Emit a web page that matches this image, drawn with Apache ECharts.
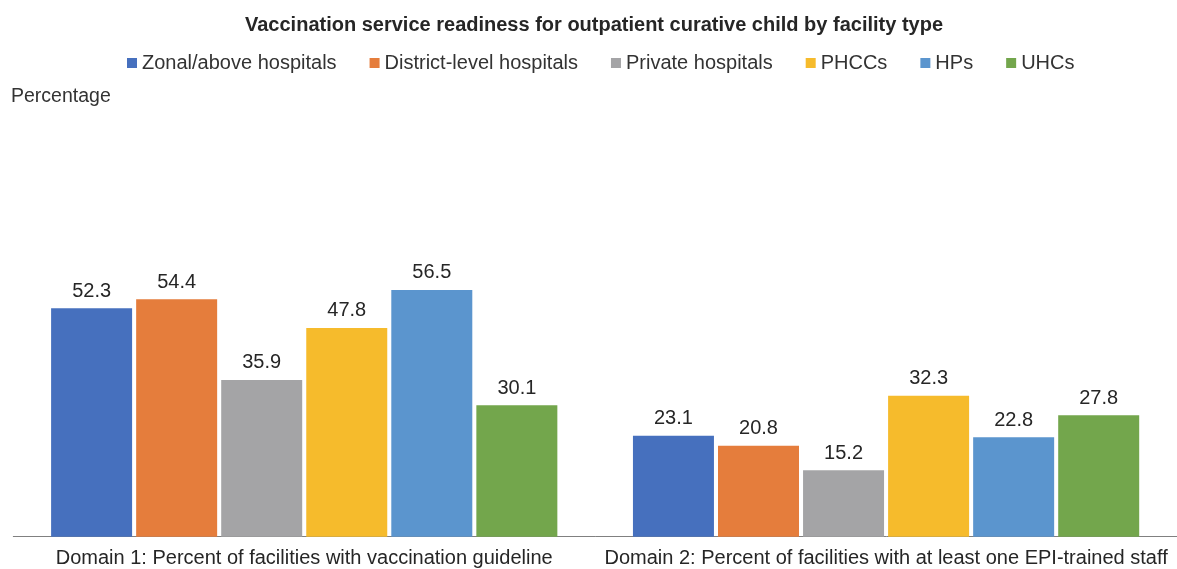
<!DOCTYPE html>
<html>
<head>
<meta charset="utf-8">
<script src="https://cdn.jsdelivr.net/npm/echarts@6/dist/echarts.min.js"></script>
<style>
html,body{margin:0;padding:0;background:#fff;}
#chart{width:1177px;height:569px;}
</style>
</head>
<body>
<div id="chart"></div>
<script>
const titleText = 'Vaccination service readiness for outpatient curative child by facility type';
const yAxisLabel = 'Percentage';
const categories = [
  'Domain 1: Percent of facilities with vaccination guideline',
  'Domain 2: Percent of facilities with at least one EPI-trained staff'
];
const seriesNames = ['Zonal/above hospitals', 'District-level hospitals', 'Private hospitals', 'PHCCs', 'HPs', 'UHCs'];
const zonal = [52.3, 23.1];
const district = [54.4, 20.8];
const privateH = [35.9, 15.2];
const phccs = [47.8, 32.3];
const hps = [56.5, 22.8];
const uhcs = [30.1, 27.8];
const seriesValues = [zonal, district, privateH, phccs, hps, uhcs];
const colors = ['#4670BE', '#E57D3C', '#A4A4A6', '#F6BB2C', '#5B95CE', '#73A64C'];

const chart = echarts.init(document.getElementById('chart'), null, {renderer: 'canvas'});
const font = 'Liberation Sans, Arial, sans-serif';
chart.setOption({
  animation: false,
  backgroundColor: '#ffffff',
  textStyle: {fontFamily: font},
  title: [
    {text: titleText, left: 245, top: 15, padding: 0,
     textStyle: {fontFamily: font, fontSize: 20, fontWeight: 'bold', color: '#262626'}},
    {text: yAxisLabel, left: 11, top: 87, padding: 0,
     textStyle: {fontFamily: font, fontSize: 19.5, fontWeight: 'normal', color: '#333'}}
  ],
  legend: {
    data: seriesNames,
    left: 127, top: 53, padding: 0,
    icon: 'rect', itemWidth: 10, itemHeight: 10, itemGap: 33,
    textStyle: {fontFamily: font, fontSize: 20, color: '#333'}
  },
  grid: {left: 13.3, width: 1174, top: 100, bottom: 32.3, containLabel: false},
  xAxis: {
    type: 'category', data: categories,
    axisLine: {show: true, lineStyle: {color: '#808080', width: 1}},
    axisTick: {show: false},
    axisLabel: {margin: 12, fontFamily: font, fontSize: 20, color: '#262626', interval: 0}
  },
  yAxis: {
    type: 'value', min: 0, max: 100,
    show: false,
    splitLine: {show: false}
  },
  series: seriesNames.map((n, i) => ({
    name: n, type: 'bar', data: seriesValues[i],
    barWidth: 81, barGap: '5%',
    itemStyle: {color: colors[i]},
    label: {show: true, position: 'top', distance: 7, fontFamily: font, fontSize: 20, color: '#262626',
            formatter: p => p.value.toFixed(1)}
  }))
});
</script>
</body>
</html>
